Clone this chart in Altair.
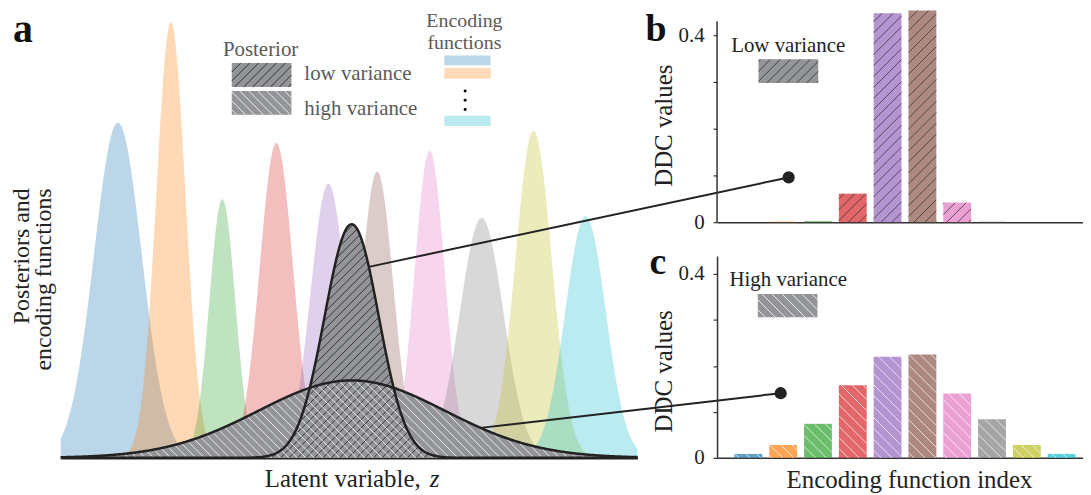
import numpy as np
import pandas as pd
import altair as alt

FONT = "Liberation Serif"
INK = "#222222"
GRAYTXT = "#5a5a5a"
POST_FILL = "#939598"

# ---------------- data ----------------
enc_names = ["f1", "f2", "f3", "f4", "f5", "f6", "f7", "f8", "f9", "f10"]
enc_colors = ["#1f77b4", "#ff7f0e", "#2ca02c", "#d62728", "#9467bd",
              "#8c564b", "#e377c2", "#7f7f7f", "#bcbd22", "#17becf"]
enc_centers = [-4.5, -3.48, -2.49, -1.45, -0.45, 0.49, 1.5, 2.5, 3.5, 4.5]
enc_widths = [0.46, 0.28, 0.25, 0.32, 0.34, 0.31, 0.29, 0.42, 0.35, 0.39]
enc_heights = [0.749, 0.973, 0.578, 0.704, 0.613, 0.64, 0.687, 0.536, 0.731, 0.54]

post_names = ["low", "high"]
post_centers = [0.0, 0.0]
post_widths = [0.52, 1.8]
post_heights = [0.522, 0.173]

ddc_index = list(range(10))
ddc_low = [0.0, 0.001, 0.002, 0.061, 0.447, 0.453, 0.042, 0.001, 0.0, 0.0]
ddc_high = [0.0086, 0.028, 0.074, 0.158, 0.22, 0.225, 0.14, 0.084, 0.028, 0.0086]

# ---------------- panel geometry ----------------
ZMIN, ZMAX = -5.6, 5.5
AW, AH = 580, 450
SXA = AW / (ZMAX - ZMIN)
SYA = AH / 1.0

BXMIN, BXMAX = -0.9, 9.6
BW = 367.5
BH, BYMAX = 213, 0.4532
CH, CYMAX = 203, 0.439
SXB = BW / (BXMAX - BXMIN)
SYB = BH / BYMAX
SYC = CH / CYMAX

ONE = pd.DataFrame({"k": [0]})


def gauss(z, c, s, h):
    return h * np.exp(-(np.asarray(z) - c) ** 2 / (2 * s * s))


def hatch(xl, xr, top, bottom, spacing, slope, step=0.25):
    """hatch segments (pixel units, y up) inside bottom<=y<=top between xl and xr"""
    xs = np.arange(xl, xr + step / 2, step)
    t = top(xs)
    b = bottom(xs)
    ymax = float(np.max(t))
    if slope > 0:
        k0, k1 = np.floor((xl - ymax) / spacing) - 1, np.ceil(xr / spacing) + 1
    else:
        k0, k1 = np.floor(xl / spacing) - 1, np.ceil((xr + ymax) / spacing) + 1
    segs = []
    for k in np.arange(k0, k1 + 1):
        c = k * spacing
        y = slope * (xs - c)
        ins = (y >= b) & (y <= t)
        if not ins.any():
            continue
        d = np.diff(np.concatenate([[0], ins.astype(int), [0]]))
        st = np.where(d == 1)[0]
        en = np.where(d == -1)[0] - 1
        for s_, e_ in zip(st, en):
            if e_ > s_:
                segs.append((xs[s_], y[s_], xs[e_], y[e_]))
    return segs


def segs_df(segs, sx, sy, x0):
    arr = np.array(segs) if segs else np.zeros((0, 4))
    return pd.DataFrame({"x": x0 + arr[:, 0] / sx, "y": arr[:, 1] / sy,
                         "x2": x0 + arr[:, 2] / sx, "y2": arr[:, 3] / sy})


def label(txt, px, py, size, color=INK, align="center", baseline="middle",
          angle=0, weight="normal", style="normal"):
    return alt.Chart(ONE).mark_text(
        text=txt, font=FONT, fontSize=size, color=color, align=align,
        baseline=baseline, angle=angle, fontWeight=weight, fontStyle=style
    ).encode(x=alt.value(px), y=alt.value(py))


def rules(df, color, X, Y, width=0.8):
    return alt.Chart(df).mark_rule(color=color, strokeWidth=width).encode(
        x=X, y=Y, x2="x2:Q", y2="y2:Q")


# ---------------- panel a ----------------
z = np.linspace(ZMIN, ZMAX, 800)
enc_df = pd.concat([
    pd.DataFrame({"x": z, "y": gauss(z, c, s, h), "f": n})
    for n, c, s, h in zip(enc_names, enc_centers, enc_widths, enc_heights)
])
post_df = pd.concat([
    pd.DataFrame({"x": z, "y": gauss(z, c, s, h), "p": n})
    for n, c, s, h in zip(post_names, post_centers, post_widths, post_heights)
])

xa = alt.X("x:Q", scale=alt.Scale(domain=[ZMIN, ZMAX], nice=False, zero=False),
           axis=alt.Axis(labels=False, ticks=False, title=None, grid=False,
                         domainColor=INK, domainWidth=2.5))
ya = alt.Y("y:Q", stack=None, scale=alt.Scale(domain=[0, 1], nice=False),
           axis=alt.Axis(labels=False, ticks=False, title=None, grid=False, domain=False))

areas = alt.Chart(enc_df).mark_area(opacity=0.3).encode(
    x=xa, y=ya,
    color=alt.Color("f:N", scale=alt.Scale(domain=enc_names, range=enc_colors), legend=None),
)
fill_high = alt.Chart(post_df[post_df.p == "high"]).mark_area(color=POST_FILL, opacity=1).encode(x=xa, y=ya)
fill_low = alt.Chart(post_df[post_df.p == "low"]).mark_area(color=POST_FILL, opacity=1).encode(x=xa, y=ya)


def px_top(i):
    return lambda xs: SYA * gauss(ZMIN + xs / SXA, post_centers[i], post_widths[i], post_heights[i])


zero_fn = lambda xs: np.zeros_like(xs)
low_h = segs_df(hatch(0, AW, px_top(0), zero_fn, 8.5, 1), SXA, SYA, ZMIN)
high_h = segs_df(hatch(0, AW, px_top(1), zero_fn, 8.5, -1), SXA, SYA, ZMIN)

outline = alt.Chart(post_df).mark_line(color=INK, strokeWidth=2.5).encode(
    x=xa, y=ya, detail="p:N")

# connectors to panels b and c
z_low, z_high = 0.33, 2.48
conn_low = alt.Chart(pd.DataFrame({"x": [z_low], "y": [gauss(z_low, 0, post_widths[0], post_heights[0])]})
                     ).mark_rule(color=INK, strokeWidth=2).encode(
    x=xa, y=ya, x2=alt.value(732), y2=alt.value(168))
conn_high = alt.Chart(pd.DataFrame({"x": [z_high], "y": [gauss(z_high, 0, post_widths[1], post_heights[1])]})
                      ).mark_rule(color=INK, strokeWidth=2).encode(
    x=xa, y=ya, x2=alt.value(724), y2=alt.value(385))
dot_low = alt.Chart(ONE).mark_circle(size=150, color=INK, opacity=1).encode(x=alt.value(732), y=alt.value(168))
dot_high = alt.Chart(ONE).mark_circle(size=150, color=INK, opacity=1).encode(x=alt.value(724), y=alt.value(385))


# legend boxes of panel a (pixel boxes converted to data units)
def box_a(x0, x1, yb, yt):
    return pd.DataFrame({"x": [ZMIN + x0 / SXA], "x2": [ZMIN + x1 / SXA],
                         "y": [yb / SYA], "y2": [yt / SYA]})


lowbox = (172, 232, 373, 397)
highbox = (172, 232, 345, 369)
leg_rects = alt.Chart(pd.concat([box_a(*lowbox), box_a(*highbox)])).mark_rect(color=POST_FILL).encode(
    x=xa, x2="x2:Q", y=ya, y2="y2:Q")
lowbox_h = segs_df(hatch(lowbox[0], lowbox[1], lambda xs: np.full_like(xs, lowbox[3]),
                         lambda xs: np.full_like(xs, lowbox[2]), 9, 1), SXA, SYA, ZMIN)
highbox_h = segs_df(hatch(highbox[0], highbox[1], lambda xs: np.full_like(xs, highbox[3]),
                          lambda xs: np.full_like(xs, highbox[2]), 9, -1), SXA, SYA, ZMIN)

enc_boxes = []
for col, (t, b) in zip([enc_colors[0], enc_colors[1], enc_colors[9]],
                       [(45.3, 55.3), (58, 68.7), (106, 116.3)]):
    enc_boxes.append(alt.Chart(ONE).mark_rect(color=col, opacity=0.3).encode(
        x=alt.value(385.7), x2=alt.value(432.3), y=alt.value(t), y2=alt.value(b)))
vdots = [alt.Chart(ONE).mark_circle(size=9, color="#000", opacity=1).encode(
    x=alt.value(406.7), y=alt.value(yy)) for yy in (81, 90.3, 99.7)]

panel_a = alt.layer(
    areas, fill_high, fill_low,
    rules(low_h, "#1a1a1a", xa, ya), rules(high_h, "#ffffff", xa, ya),
    outline, conn_low, conn_high, dot_low, dot_high,
    leg_rects, rules(lowbox_h, "#1a1a1a", xa, ya), rules(highbox_h, "#ffffff", xa, ya),
    *enc_boxes, *vdots,
    label("Posterior", 201, 40, 21, GRAYTXT),
    label("low variance", 245, 64, 21, GRAYTXT, align="left"),
    label("high variance", 245, 99.3, 21, GRAYTXT, align="left"),
    label("Encoding", 406, 11, 20, GRAYTXT),
    label("functions", 406, 33, 20, GRAYTXT),
    label("a", -48, 32, 40, "#111", align="left", baseline="alphabetic", weight="bold"),
    label("Posteriors and", -39, 179, 24, INK, align="right", angle=270),
    label("encoding functions", -16.5, 179, 24, INK, align="right", angle=270),
    label("Latent variable,", 362, 479, 25, INK, align="right", baseline="alphabetic"),
    label("z", 371, 479, 25, INK, align="left", baseline="alphabetic", style="italic"),
).properties(width=AW, height=AH)


# ---------------- panels b and c ----------------
box_text_y = {"Low variance": 36.3, "High variance": 24.3}


def bar_panel(values, height, ymax, sy, hatch_color, slope, box, box_text, letter, letter_pos,
              xtitle, domain_rule):
    df = pd.DataFrame({"x": [i - 0.4 for i in ddc_index],
                       "x2": [i + 0.4 for i in ddc_index], "y": values,
                       "y2": [0.0] * len(values), "f": enc_names})
    xb = alt.X("x:Q", scale=alt.Scale(domain=[BXMIN, BXMAX], nice=False, zero=False),
               axis=alt.Axis(labels=False, ticks=False, title=None, grid=False,
                             domainColor="#333", domainWidth=1.5))
    yb = alt.Y("y:Q", scale=alt.Scale(domain=[0, ymax], nice=False),
               axis=alt.Axis(values=[0, 0.1, 0.2, 0.3, 0.4],
                             labelExpr="datum.value == 0 ? '0' : (datum.value == 0.4 ? '0.4' : '')",
                             tickSize=4, tickColor="#333", tickWidth=1.2, labelPadding=9,
                             labelFont=FONT, labelFontSize=21, labelColor=INK,
                             domain=not domain_rule, domainColor="#333", domainWidth=1.5,
                             grid=False, title=None))
    bars = alt.Chart(df).mark_rect(opacity=0.7).encode(
        x=xb, y=yb, x2="x2:Q", y2="y2:Q",
        color=alt.Color("f:N", scale=alt.Scale(domain=enc_names, range=enc_colors), legend=None))
    segs = []
    for i, v in zip(ddc_index, values):
        if v * sy < 1.5:
            continue
        x0 = (i - 0.4 - BXMIN) * SXB
        x1 = (i + 0.4 - BXMIN) * SXB
        segs += hatch(x0, x1, lambda xs, vv=v: np.full_like(xs, vv * sy), zero_fn, 11, slope)
    bar_h = segs_df(segs, SXB, sy, BXMIN)
    bdf = pd.DataFrame({"x": [box[0]], "x2": [box[1]], "y": [box[2]], "y2": [box[3]]})
    brect = alt.Chart(bdf).mark_rect(color=POST_FILL).encode(x=xb, x2="x2:Q", y=yb, y2="y2:Q")
    bx0, bx1 = (box[0] - BXMIN) * SXB, (box[1] - BXMIN) * SXB
    box_h = segs_df(hatch(bx0, bx1, lambda xs: np.full_like(xs, box[3] * sy),
                          lambda xs: np.full_like(xs, box[2] * sy), 10, slope), SXB, sy, BXMIN)
    layers = [bars, rules(bar_h, hatch_color, xb, yb, 0.7), brect, rules(box_h, hatch_color, xb, yb),
              label(box_text, 71.6, box_text_y[box_text], 21, INK),
              label(letter, letter_pos[0], letter_pos[1], 38, "#111", align="left",
                    baseline="alphabetic", weight="bold"),
              label("DDC values", -53.5, 116, 25, INK, angle=270)]
    if domain_rule:
        layers.append(alt.Chart(ONE).mark_rule(color="#333", strokeWidth=1.5).encode(
            x=alt.value(0), y=alt.value(height), y2=alt.value(height - 0.43 * sy)))
    if xtitle:
        layers.append(label(xtitle, 193.5, 225, 25, INK))
    return alt.layer(*layers).properties(width=BW, height=height)


panel_b = bar_panel(ddc_low, BH, BYMAX, SYB, "#2a2a2a", 1, (0.291, 2.006, 0.2979, 0.3483),
                    "Low variance", "b", (-72, 31), None, True)
panel_c = bar_panel(ddc_high, CH, CYMAX, SYC, "#ffffff", -1, (0.271, 1.986, 0.3056, 0.3562),
                    "High variance", "c", (-68, 18), "Encoding function index", False)

right = alt.vconcat(panel_b, panel_c, spacing=34, bounds="flush")
chart = alt.hconcat(panel_a, right, spacing=80, bounds="flush").properties(
    padding={"left": 2, "top": 0, "right": 0, "bottom": 0}
).configure_view(stroke=None)

chart.save("out.html", embed_options={"renderer": "svg", "actions": False})
